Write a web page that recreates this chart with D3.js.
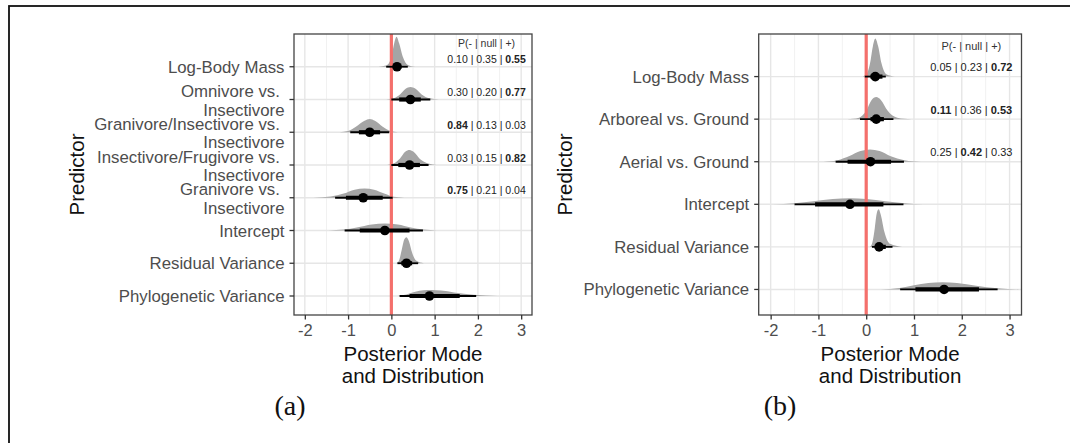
<!DOCTYPE html>
<html>
<head>
<meta charset="utf-8">
<script src="https://cdn.jsdelivr.net/npm/d3@7"></script>
<style>
  body { margin: 0; background: #fff; }
  svg { display: block; font-family: "Liberation Sans", Arial, sans-serif; }
</style>
</head>
<body>
<div id="fig"></div>
<script>
// panel (a) data
const predictorsA = ["Log-Body Mass", "Omnivore vs. \nInsectivore", "Granivore/Insectivore vs. \nInsectivore",
  "Insectivore/Frugivore vs. \nInsectivore", "Granivore vs. \nInsectivore", "Intercept", "Residual Variance", "Phylogenetic Variance"];
const modeA = [0.13, 0.44, -0.5, 0.42, -0.65, -0.15, 0.35, 0.88];
const thickLoA = [0.04, 0.18, -0.75, 0.16, -1.05, -0.73, 0.23, 0.42];
const thickHiA = [0.23, 0.68, -0.26, 0.66, -0.2, 0.42, 0.48, 1.58];
const thinLoA = [-0.12, 0.0, -0.95, 0.0, -1.3, -1.08, 0.14, 0.19];
const thinHiA = [0.38, 0.9, -0.05, 0.86, 0.03, 0.73, 0.62, 1.96];
const slabXA = [
  [-0.30, -0.12, 0.0, 0.06, 0.12, 0.18, 0.26, 0.38, 0.55],
  [-0.12, 0.05, 0.2, 0.33, 0.44, 0.56, 0.7, 0.88, 1.1],
  [-1.2, -1.0, -0.82, -0.62, -0.5, -0.38, -0.2, -0.02, 0.15],
  [-0.1, 0.05, 0.2, 0.32, 0.42, 0.52, 0.66, 0.85, 1.05],
  [-1.8, -1.4, -1.1, -0.85, -0.62, -0.4, -0.15, 0.05, 0.3],
  [-1.45, -1.1, -0.8, -0.45, -0.15, 0.15, 0.45, 0.75, 1.05],
  [0.12, 0.18, 0.24, 0.3, 0.35, 0.41, 0.48, 0.58, 0.75],
  [0.15, 0.35, 0.55, 0.75, 0.92, 1.15, 1.45, 1.9, 2.45]
];
const slabDA = [
  [0, 0.04, 0.3, 0.75, 1.0, 0.78, 0.35, 0.06, 0],
  [0, 0.04, 0.17, 0.36, 0.42, 0.36, 0.17, 0.04, 0],
  [0, 0.04, 0.18, 0.38, 0.44, 0.38, 0.18, 0.04, 0],
  [0, 0.05, 0.22, 0.44, 0.5, 0.43, 0.2, 0.05, 0],
  [0, 0.04, 0.14, 0.27, 0.31, 0.27, 0.13, 0.03, 0],
  [0, 0.03, 0.1, 0.2, 0.23, 0.2, 0.1, 0.03, 0],
  [0, 0.1, 0.45, 0.8, 0.87, 0.72, 0.35, 0.08, 0],
  [0, 0.05, 0.14, 0.19, 0.2, 0.18, 0.12, 0.04, 0]
];
const probsA = [["0.10", "0.35", "0.55"], ["0.30", "0.20", "0.77"], ["0.84", "0.13", "0.03"],
  ["0.03", "0.15", "0.82"], ["0.75", "0.21", "0.04"]];
const boldA = [[2], [2], [0], [2], [0]];

// panel (b) data
const predictorsB = ["Log-Body Mass", "Arboreal vs. Ground", "Aerial vs. Ground", "Intercept", "Residual Variance", "Phylogenetic Variance"];
const modeB = [0.19, 0.21, 0.09, -0.34, 0.27, 1.63];
const thickLoB = [0.09, 0.09, -0.39, -1.07, 0.2, 1.03];
const thickHiB = [0.34, 0.37, 0.52, 0.36, 0.41, 2.36];
const thinLoB = [-0.03, -0.13, -0.64, -1.5, 0.12, 0.71];
const thinHiB = [0.41, 0.57, 0.79, 0.78, 0.55, 2.75];
const slabXB = [
  [-0.10, 0.0, 0.08, 0.14, 0.19, 0.25, 0.32, 0.42, 0.6],
  [-0.4, -0.15, 0.0, 0.11, 0.21, 0.31, 0.45, 0.65, 0.95],
  [-0.9, -0.6, -0.35, -0.12, 0.08, 0.28, 0.5, 0.8, 1.15],
  [-1.95, -1.5, -1.1, -0.7, -0.34, 0.0, 0.4, 0.8, 1.2],
  [0.08, 0.13, 0.18, 0.22, 0.26, 0.31, 0.38, 0.5, 0.75],
  [0.3, 0.7, 1.0, 1.3, 1.6, 1.9, 2.3, 2.75, 3.2]
];
const slabDB = [
  [0, 0.05, 0.35, 0.8, 1.0, 0.8, 0.35, 0.06, 0],
  [0, 0.04, 0.22, 0.5, 0.58, 0.5, 0.22, 0.04, 0],
  [0, 0.04, 0.15, 0.28, 0.32, 0.28, 0.15, 0.04, 0],
  [0, 0.03, 0.08, 0.14, 0.16, 0.14, 0.08, 0.03, 0],
  [0, 0.12, 0.5, 0.88, 0.99, 0.82, 0.4, 0.08, 0],
  [0, 0.04, 0.11, 0.17, 0.19, 0.17, 0.1, 0.03, 0]
];
const probsB = [["0.05", "0.23", "0.72"], ["0.11", "0.36", "0.53"], ["0.25", "0.42", "0.33"]];
const boldB = [[2], [0, 2], [1]];

const xTicks = [-2, -1, 0, 1, 2, 3];
const xMinor = [-1.5, -0.5, 0.5, 1.5, 2.5];
const probHeader = "P(- | null | +)";

const W = 1070, H = 443;
const svg = d3.select("#fig").append("svg").attr("width", W).attr("height", H);
svg.append("rect").attr("width", W).attr("height", H).attr("fill", "#fff");

// outer frame (only top and left edges visible)
svg.append("rect").attr("x", 9).attr("y", 6).attr("width", W + 20).attr("height", H + 20)
  .attr("fill", "none").attr("stroke", "#111").attr("stroke-width", 1.8);

function drawPanel(p) {
  const x = d3.scaleLinear().domain([-2.25, 3.25]).range([p.left, p.right]);
  const y = d3.scaleLinear().domain(p.yDomain).range([p.top, p.bottom]);
  const h = d3.scaleLinear().domain([0, 1]).range([0, p.slabMax]);
  const g = svg.append("g");
  const n = p.labels.length;

  // grid
  g.selectAll(".minor").data(xMinor).join("line")
    .attr("x1", d => x(d)).attr("x2", d => x(d)).attr("y1", p.top).attr("y2", p.bottom)
    .attr("stroke", "#efefef").attr("stroke-width", 0.9);
  g.selectAll(".major").data(xTicks).join("line")
    .attr("x1", d => x(d)).attr("x2", d => x(d)).attr("y1", p.top).attr("y2", p.bottom)
    .attr("stroke", "#e6e6e6").attr("stroke-width", 1.4);
  g.selectAll(".hgrid").data(d3.range(n)).join("line")
    .attr("x1", p.left).attr("x2", p.right).attr("y1", d => y(d)).attr("y2", d => y(d))
    .attr("stroke", "#e6e6e6").attr("stroke-width", 1.4);

  // slabs
  const area = d3.area().curve(d3.curveMonotoneX);
  d3.range(n).forEach(i => {
    const pts = p.slabX[i].map((v, k) => [v, p.slabD[i][k]]);
    area.x(d => x(d[0])).y0(y(i)).y1(d => y(i) - h(d[1]));
    g.append("path").attr("d", area(pts)).attr("fill", "#a5a5a5");
  });

  // zero line
  g.append("line").attr("x1", x(0)).attr("x2", x(0)).attr("y1", p.top).attr("y2", p.bottom)
    .attr("stroke", "#f4706c").attr("stroke-width", 3.2);

  // intervals and points
  d3.range(n).forEach(i => {
    g.append("line").attr("x1", x(p.thinLo[i])).attr("x2", x(p.thinHi[i]))
      .attr("y1", y(i)).attr("y2", y(i)).attr("stroke", "#000").attr("stroke-width", 1.8);
    g.append("line").attr("x1", x(p.thickLo[i])).attr("x2", x(p.thickHi[i]))
      .attr("y1", y(i)).attr("y2", y(i)).attr("stroke", "#000").attr("stroke-width", 4.2);
    g.append("circle").attr("cx", x(p.mode[i])).attr("cy", y(i)).attr("r", 4.8).attr("fill", "#000");
  });

  // probability text
  g.append("text").attr("x", x(2.2)).attr("y", y(-0.71)).attr("dy", "0.36em")
    .attr("text-anchor", "middle").attr("font-size", p.probSize).attr("fill", "#333").text(probHeader);
  p.probs.forEach((row, i) => {
    const t = g.append("text").attr("x", x(2.2)).attr("y", y(i - 0.22)).attr("dy", "0.36em")
      .attr("text-anchor", "middle").attr("font-size", p.probSize).attr("fill", "#222")
      .style("white-space", "pre");
    row.forEach((v, k) => {
      t.append("tspan").attr("font-weight", p.bold[i].includes(k) ? "bold" : "normal").text(v);
      if (k < 2) t.append("tspan").text(" | ");
    });
  });

  // border
  g.append("rect").attr("x", p.left).attr("y", p.top).attr("width", p.right - p.left).attr("height", p.bottom - p.top)
    .attr("fill", "none").attr("stroke", "#444").attr("stroke-width", 1.3);

  // x axis
  const xa = g.append("g").attr("transform", `translate(0,${p.bottom})`)
    .call(d3.axisBottom(x).tickValues(xTicks).tickSize(4.5).tickPadding(5).tickFormat(d => String(d)));
  xa.select(".domain").remove();
  xa.selectAll("line").attr("stroke", "#333").attr("stroke-width", 1.3);
  xa.selectAll("text").attr("font-size", 16.5).attr("fill", "#4d4d4d")
    .attr("font-family", "'Liberation Sans', Arial, sans-serif");

  // y axis ticks and labels
  d3.range(n).forEach(i => {
    g.append("line").attr("x1", p.left - 4.5).attr("x2", p.left).attr("y1", y(i)).attr("y2", y(i))
      .attr("stroke", "#333").attr("stroke-width", 1.3);
    const lines = p.labels[i].split("\n");
    const t = g.append("text").attr("text-anchor", "end").attr("font-size", 16.8).attr("fill", "#4d4d4d")
      .style("white-space", "pre");
    if (lines.length === 1) {
      t.append("tspan").attr("x", p.left - 9.5).attr("y", y(i) + 6).text(lines[0]);
    } else {
      t.append("tspan").attr("x", p.left - 9.5).attr("y", y(i) - 2.5).text(lines[0]);
      t.append("tspan").attr("x", p.left - 9.5).attr("y", y(i) + 16).text(lines[1]);
    }
  });

  // titles
  const cx = (p.left + p.right) / 2;
  g.append("text").attr("x", cx).attr("y", 360.6).attr("text-anchor", "middle")
    .attr("font-size", 20.5).attr("fill", "#111").text("Posterior Mode");
  g.append("text").attr("x", cx).attr("y", 383.3).attr("text-anchor", "middle")
    .attr("font-size", 20.5).attr("fill", "#111").text("and Distribution");
  g.append("text").attr("transform", `translate(${p.yTitleX},${(p.top + p.bottom) / 2}) rotate(-90)`)
    .attr("dy", "0.36em").attr("text-anchor", "middle").attr("font-size", 20.5).attr("fill", "#111").text("Predictor");

  g.append("text").attr("x", p.tagX).attr("y", 406).attr("dy", "0.33em").attr("text-anchor", "middle")
    .attr("font-family", "'Liberation Serif', 'Times New Roman', serif").attr("font-size", 28)
    .attr("fill", "#111").text(p.tag);
}

drawPanel({
  left: 294, right: 532, top: 34, bottom: 315, yDomain: [-1, 7.58], slabMax: 30,
  labels: predictorsA, mode: modeA, thickLo: thickLoA, thickHi: thickHiA, thinLo: thinLoA, thinHi: thinHiA,
  slabX: slabXA, slabD: slabDA, probs: probsA, bold: boldA, probSize: 10.5,
  yTitleX: 76.5, tag: "(a)", tagX: 290
});

drawPanel({
  left: 758.7, right: 1021.5, top: 34, bottom: 315, yDomain: [-1, 5.6], slabMax: 38,
  labels: predictorsB, mode: modeB, thickLo: thickLoB, thickHi: thickHiB, thinLo: thinLoB, thinHi: thinHiB,
  slabX: slabXB, slabD: slabDB, probs: probsB, bold: boldB, probSize: 11,
  yTitleX: 564.5, tag: "(b)", tagX: 780
});
</script>
</body>
</html>
